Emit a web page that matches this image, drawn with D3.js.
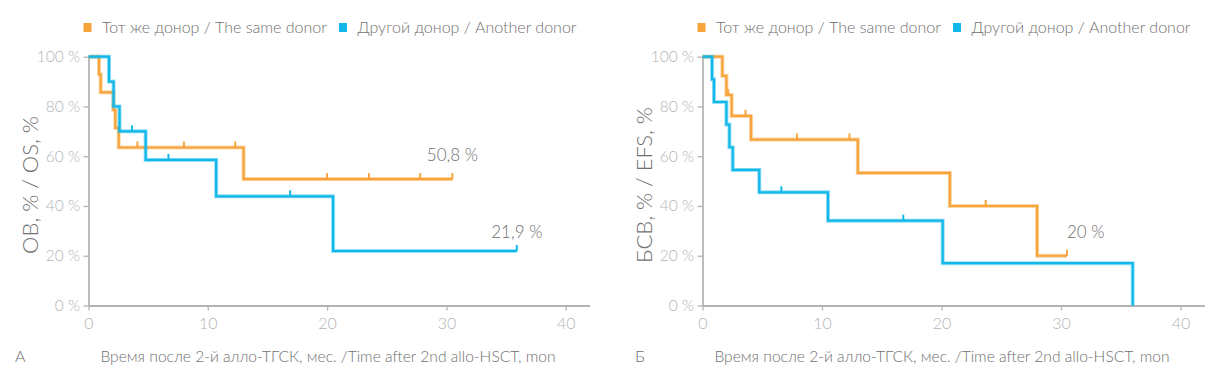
<!DOCTYPE html>
<html>
<head>
<meta charset="utf-8">
<script src="https://cdn.jsdelivr.net/npm/d3@7"></script>
<style>
  body { margin: 0; background: #fff; }
  text { font-family: Lato, "Noto Sans", sans-serif; font-weight: 300; }
</style>
</head>
<body>
<script>
// legend + axis text
var seriesNames = ['Тот же донор / The same donor', 'Другой донор / Another donor'];
var xTicks = [0, 10, 20, 30, 40];
var yTicks = [0, 20, 40, 60, 80, 100];
var xTitle = 'Время после 2-й алло-ТГСК, мес. /Time after 2nd allo-HSCT, mon';
var yTitles = ['ОВ, % / OS, %', 'БСВ, % / EFS, %'];
var panelLetters = ['А', 'Б'];

// OS, same donor
var osSameTime = [0, 0.88, 1.02, 2.08, 2.25, 2.53, 13.0, 30.5];
var osSameSurv = [100, 92.9, 85.7, 78.6, 71.4, 63.5, 50.8, 50.8];
var osSameCensor = [4.1, 8.0, 12.3, 20.0, 23.5, 27.8, 30.5];
// OS, other donor
var osOtherTime = [0, 1.72, 2.1, 2.6, 4.79, 10.7, 20.5, 35.9];
var osOtherSurv = [100, 90, 80, 70, 58.5, 43.9, 21.9, 21.9];
var osOtherCensor = [3.65, 6.7, 16.9, 35.9];
// EFS, same donor
var efsSameTime = [0, 1.66, 2.0, 2.44, 4.06, 13.0, 20.7, 28.0, 30.5];
var efsSameSurv = [100, 92.3, 84.6, 76.2, 66.7, 53.3, 40.0, 20.0, 20.0];
var efsSameCensor = [2.15, 3.6, 7.9, 12.3, 23.7, 30.5];
// EFS, other donor
var efsOtherTime = [0, 0.8, 0.96, 2.0, 2.25, 2.53, 4.75, 10.5, 20.1, 36.0];
var efsOtherSurv = [100, 90.9, 81.8, 72.7, 63.6, 54.5, 45.5, 34.1, 17.0, 0];
var efsOtherCensor = [6.6, 16.8];

var endLabels = [['50,8 %', '21,9 %'], ['20 %', null]];

// colors
var colorSame = '#f6a43b',
    colorOther = '#12b8ea',
    colorAxis = '#9a9a9a',
    colorTick = '#b4b4b4',
    colorText = '#707070';

var svg = d3.select('body')
    .append('svg')
    .attr('width', 1224)
    .attr('height', 375);

var panels = [
    { left: 88.5, right: 589.6, letterX: 15, yTitleX: 38,
      series: [
          { t: osSameTime, s: osSameSurv, c: osSameCensor, color: colorSame },
          { t: osOtherTime, s: osOtherSurv, c: osOtherCensor, color: colorOther }
      ] },
    { left: 702.5, right: 1204.4, letterX: 635, yTitleX: 652,
      series: [
          { t: efsSameTime, s: efsSameSurv, c: efsSameCensor, color: colorSame },
          { t: efsOtherTime, s: efsOtherSurv, c: efsOtherCensor, color: colorOther }
      ] }
];

var y = d3.scaleLinear().domain([0, 100]).range([305.5, 56.7]);

panels.forEach(function (p, pi) {
    var g = svg.append('g');
    var x = d3.scaleLinear().domain([0, 42]).range([p.left, p.right]);

    // legend
    var leg = g.append('g');
    [0, 255.5].forEach(function (off, i) {
        leg.append('rect')
            .attr('x', p.left - 5 + off)
            .attr('y', 23)
            .attr('width', 8)
            .attr('height', 9)
            .attr('fill', i === 0 ? colorSame : colorOther);
        leg.append('text')
            .attr('x', p.left + 13.5 + off)
            .attr('y', 32.5)
            .attr('font-size', 16)
            .attr('fill', colorText)
            .text(seriesNames[i]);
    });

    // axes
    var yAxis = g.append('g')
        .attr('transform', 'translate(' + p.left + ',0)')
        .call(d3.axisLeft(y).tickValues(yTicks).tickSize(5).tickSizeOuter(0).tickPadding(3.5)
            .tickFormat(function (d) { return d + ' %'; }));
    var xAxis = g.append('g')
        .attr('transform', 'translate(0,' + y(0) + ')')
        .call(d3.axisBottom(x).tickValues(xTicks).tickSize(5).tickSizeOuter(0).tickPadding(7.5));
    [yAxis, xAxis].forEach(function (a) {
        a.select('.domain').attr('stroke', colorAxis).attr('stroke-width', 1.3);
        a.selectAll('.tick line').attr('stroke', colorTick).attr('stroke-width', 1.3);
        a.selectAll('.tick text').attr('fill', colorTick)
            .attr('font-family', 'Lato, sans-serif').attr('font-weight', 300);
    });
    yAxis.selectAll('.tick text').attr('font-size', 15.5);
    xAxis.selectAll('.tick text').attr('font-size', 16);

    // step curves
    var line = d3.line()
        .x(function (d) { return x(d[0]); })
        .y(function (d) { return y(d[1]); })
        .curve(d3.curveStepAfter);

    p.series.forEach(function (sr, si) {
        var pts = sr.t.map(function (t, i) { return [t, sr.s[i]]; });
        g.append('path')
            .attr('d', line(pts))
            .attr('fill', 'none')
            .attr('stroke', sr.color)
            .attr('stroke-opacity', 0.45)
            .attr('stroke-width', 4);
        g.append('path')
            .attr('d', line(pts))
            .attr('fill', 'none')
            .attr('stroke', sr.color)
            .attr('stroke-width', 2.2);

        // censor marks
        g.selectAll(null).data(sr.c).enter().append('line')
            .attr('x1', function (d) { return x(d); })
            .attr('x2', function (d) { return x(d); })
            .attr('y1', function (d) {
                var i = d3.bisectRight(sr.t, d) - 1;
                return y(sr.s[i]);
            })
            .attr('y2', function (d) {
                var i = d3.bisectRight(sr.t, d) - 1;
                return y(sr.s[i]) - 6;
            })
            .attr('stroke', sr.color)
            .attr('stroke-width', 2);

        // end label
        var lab = endLabels[pi][si];
        if (lab) {
            var lt = sr.t[sr.t.length - 1], ls = sr.s[sr.s.length - 1];
            g.append('text')
                .attr('x', x(lt))
                .attr('y', y(ls) - (pi === 0 && si === 1 ? 13 : 18))
                .attr('text-anchor', pi === 1 ? 'start' : 'middle')
                .attr('font-size', 17)
                .attr('fill', colorText)
                .text(lab);
        }
    });

    // titles
    g.append('text')
        .attr('x', p.left + 239.5)
        .attr('y', 362)
        .attr('text-anchor', 'middle')
        .attr('font-size', 15.6)
        .attr('fill', colorText)
        .text(xTitle);
    g.append('text')
        .attr('transform', 'translate(' + p.yTitleX + ',185) rotate(-90)')
        .attr('text-anchor', 'middle')
        .attr('font-size', 22)
        .attr('fill', colorText)
        .text(yTitles[pi]);
    g.append('text')
        .attr('x', p.letterX)
        .attr('y', 362)
        .attr('font-size', 16)
        .attr('fill', colorText)
        .text(panelLetters[pi]);
});
</script>
</body>
</html>
